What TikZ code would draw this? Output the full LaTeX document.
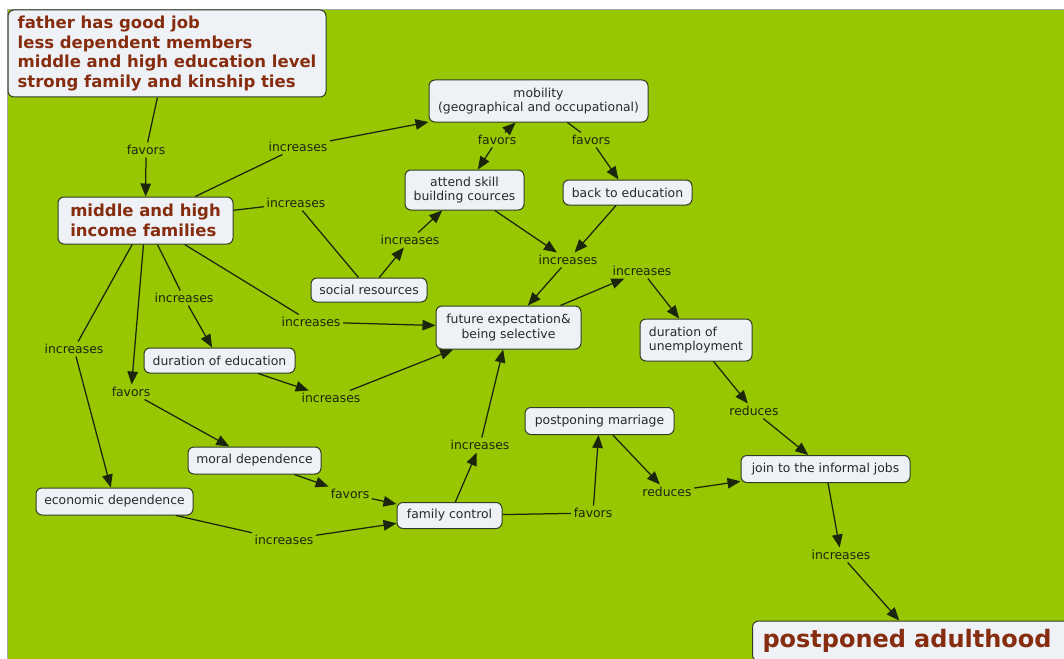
\documentclass[tikz,border=0pt]{standalone}
\usepackage{fontspec}
\setmainfont{DejaVu Sans}
\usetikzlibrary{arrows.meta}
\definecolor{bg}{RGB}{150,199,0}
\definecolor{boxfill}{RGB}{238,242,246}
\definecolor{boxline}{RGB}{50,60,40}
\definecolor{rust}{RGB}{135,45,15}
\definecolor{ink}{RGB}{28,38,12}
\definecolor{txt}{RGB}{40,42,40}
\tikzset{
  concept/.style={draw=boxline, fill=boxfill, rounded corners=6pt, line width=1pt,
    font=\fontsize{12.4}{14.5}\selectfont, text=txt, inner xsep=8pt, inner ysep=4pt, align=center},
  bigbox/.style={concept, font=\fontsize{16.5}{19.8}\selectfont\bfseries, text=rust, align=left},
  lab/.style={fill=bg, font=\fontsize{12.4}{14}\selectfont, text=ink, inner sep=2.5pt},
  link/.style={draw=ink, line width=1.25pt},
  arr/.style={link, -{Triangle[length=13pt,width=10.5pt]}}
}
\begin{document}
\begin{tikzpicture}[x=1pt,y=-1pt]
\useasboundingbox (0,0) rectangle (1064,658);
\clip (0,0) rectangle (1064,658);
\fill[white] (0,0) rectangle (1064,658);
\fill[bg] (7,9) rectangle (1070,670);
\draw[gray!70, line width=0.6pt] (7,670) -- (7,9) -- (1070,9);

% concepts
\node[bigbox, minimum width=318pt, minimum height=87pt] (top) at (167,53.5)
  {father has good job\\less dependent members\\middle and high education level\\strong family and kinship ties};
\node[bigbox, minimum width=175pt, minimum height=47pt] (mid) at (145.5,220.5)
  {middle and high\\income families};
\node[concept, minimum width=219pt, minimum height=42pt] (mob) at (538.5,101)
  {mobility\\(geographical and occupational)};
\node[concept, minimum width=119pt, minimum height=40pt] (skill) at (464.5,190)
  {attend skill\\building cources};
\node[concept, minimum width=129pt, minimum height=25pt] (back) at (627.5,192.5)
  {back to education};
\node[concept, minimum width=116pt, minimum height=24pt] (social) at (369,290)
  {social resources};
\node[concept, minimum width=145pt, minimum height=43pt] (future) at (508.5,327.5)
  {future expectation\&\\being selective};
\node[concept, minimum width=112pt, minimum height=42pt, align=left] (unemp) at (696,340)
  {duration of\\unemployment};
\node[concept, minimum width=151pt, minimum height=25pt] (edu) at (219.5,360.5)
  {duration of education};
\node[concept, minimum width=133pt, minimum height=27pt] (moral) at (254.5,460.5)
  {moral dependence};
\node[concept, minimum width=157pt, minimum height=27pt] (econ) at (114.5,501.5)
  {economic dependence};
\node[concept, minimum width=105pt, minimum height=26pt] (family) at (449.5,515.5)
  {family control};
\node[concept, minimum width=149pt, minimum height=27pt] (marriage) at (599.5,421)
  {postponing marriage};
\node[concept, minimum width=169pt, minimum height=27pt] (join) at (825.5,469)
  {join to the informal jobs};
\node[bigbox, font=\fontsize{24}{28}\selectfont\bfseries, anchor=west, text width=310pt,
  inner xsep=10pt, minimum height=40pt] (adult) at (752,641) {postponed adulthood};

% linking phrases
\node[lab] (l1) at (146,150) {favors};
\node[lab] (l2) at (298,147) {increases};
\node[lab] (l3) at (296,203) {increases};
\node[lab] (l4) at (410,240) {increases};
\node[lab] (l5) at (497,140) {favors};
\node[lab] (l6) at (591,140) {favors};
\node[lab] (l7) at (568,260) {increases};
\node[lab] (l8) at (642,271) {increases};
\node[lab] (l9) at (311,322) {increases};
\node[lab] (l10) at (184,298) {increases};
\node[lab] (l11) at (74,349) {increases};
\node[lab] (l12) at (131,392) {favors};
\node[lab] (l13) at (331,398) {increases};
\node[lab] (l14) at (350,494) {favors};
\node[lab] (l15) at (284,540) {increases};
\node[lab] (l16) at (480,445) {increases};
\node[lab] (l17) at (593,513) {favors};
\node[lab] (l18) at (667,492) {reduces};
\node[lab] (l19) at (754,411) {reduces};
\node[lab] (l20) at (841,555) {increases};

% connectors
\draw[link] (top) -- (l1);   \draw[arr] (l1) -- (mid);
\draw[link] (mid) -- (l2);   \draw[arr] (l2) -- (mob);
\draw[link] (mid) -- (l3);   \draw[link] (l3) -- (social);
\draw[arr] (social) -- (l4); \draw[arr] (l4) -- (skill);
\draw[arr] (l5) -- (mob);    \draw[arr] (l5) -- (skill);
\draw[link] (mob) -- (l6);   \draw[arr] (l6) -- (back);
\draw[arr] (skill) -- (l7);  \draw[arr] (back) -- (l7);  \draw[arr] (l7) -- (future);
\draw[arr] (future) -- (l8); \draw[arr] (l8) -- (unemp);
\draw[link] (mid) -- (l9);   \draw[arr] (l9) -- (future);
\draw[link] (mid) -- (l10);  \draw[arr] (l10) -- (edu);
\draw[link] (mid) -- (l11);  \draw[arr] (l11) -- (econ);
\draw[arr] (mid) -- (l12);   \draw[arr] (l12) -- (moral);
\draw[arr] (edu) -- (l13);   \draw[arr] (l13) -- (future);
\draw[arr] (moral) -- (l14); \draw[arr] (l14) -- (family);
\draw[link] (econ) -- (l15); \draw[arr] (l15) -- (family);
\draw[arr] (family) -- (l16); \draw[arr] (l16) -- (future);
\draw[link] (family) -- (l17); \draw[arr] (l17) -- (marriage);
\draw[arr] (marriage) -- (l18); \draw[arr] (l18) -- (join);
\draw[arr] (unemp) -- (l19); \draw[arr] (l19) -- (join);
\draw[arr] (join) -- (l20);  \draw[arr] (l20) -- (adult);
\end{tikzpicture}
\end{document}
